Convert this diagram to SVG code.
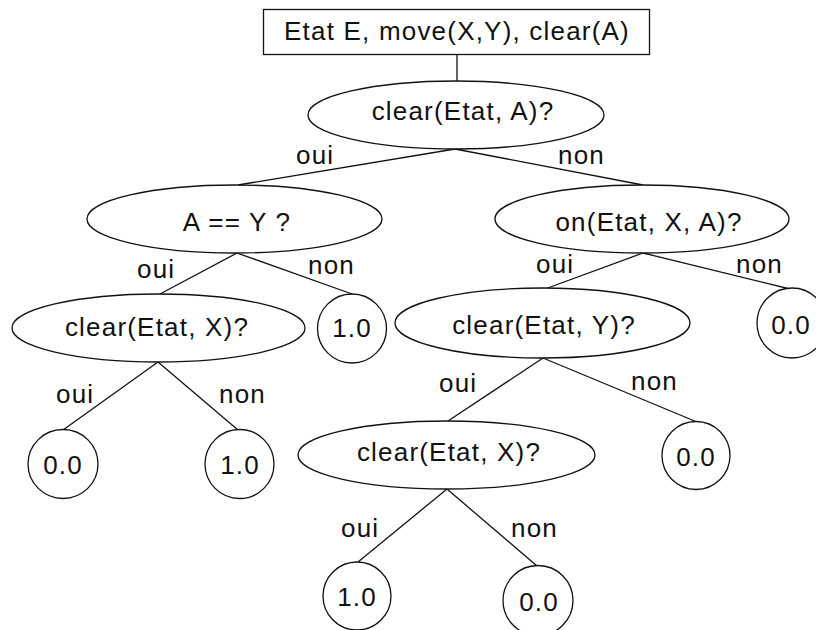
<svg xmlns="http://www.w3.org/2000/svg" width="816" height="630" viewBox="0 0 816 630">
<style>
.s{fill:#fff;stroke:#111;stroke-width:1.3}
.e line{stroke:#111;stroke-width:1.3}
text{font-family:"Liberation Sans",Arial,sans-serif;font-size:26px;letter-spacing:1.2px;fill:#111}
.c{text-anchor:middle}
</style>
<rect width="816" height="630" fill="#fff"/>
<g id="edges" class="e">
<line x1="457" y1="54" x2="457" y2="81"/>
<line x1="455" y1="149" x2="238" y2="185"/>
<line x1="455" y1="149" x2="643" y2="185"/>
<line x1="237" y1="253" x2="160" y2="294"/>
<line x1="237" y1="253" x2="352" y2="294"/>
<line x1="643" y1="253" x2="545" y2="289"/>
<line x1="643" y1="253" x2="790" y2="289"/>
<line x1="158" y1="362" x2="63" y2="430"/>
<line x1="158" y1="362" x2="238" y2="430"/>
<line x1="543" y1="358" x2="448" y2="421"/>
<line x1="543" y1="358" x2="697" y2="422"/>
<line x1="447" y1="489" x2="358" y2="562"/>
<line x1="447" y1="489" x2="537" y2="566"/>
</g>
<g id="labels">
<text x="296" y="164">oui</text>
<text x="558" y="164">non</text>
<text x="137" y="278">oui</text>
<text x="308" y="274">non</text>
<text x="536" y="273">oui</text>
<text x="736" y="273">non</text>
<text x="56" y="403">oui</text>
<text x="219" y="403">non</text>
<text x="439" y="392">oui</text>
<text x="631" y="390">non</text>
<text x="341" y="537">oui</text>
<text x="511" y="537">non</text>
</g>
<g id="start"><rect class="s" x="263.5" y="9.5" width="386" height="45"/><text class="c" x="457" y="40">Etat E, move(X,Y), clear(A)</text></g>
<g id="q1"><ellipse class="s" cx="456" cy="115" rx="148" ry="34"/><text class="c" x="463" y="120">clear(Etat, A)?</text></g>
<g id="q2"><ellipse class="s" cx="234.5" cy="219" rx="147.5" ry="34"/><text class="c" x="237" y="231">A == Y ?</text></g>
<g id="q3"><ellipse class="s" cx="642" cy="219" rx="147" ry="34"/><text class="c" x="649" y="231">on(Etat, X, A)?</text></g>
<g id="q4"><ellipse class="s" cx="158.5" cy="328" rx="146.5" ry="34"/><text class="c" x="157" y="336">clear(Etat, X)?</text></g>
<g id="l1"><ellipse class="s" cx="352" cy="328.5" rx="34.5" ry="34.5"/><text class="c" x="352" y="337">1.0</text></g>
<g id="q5"><ellipse class="s" cx="542.5" cy="323" rx="147.5" ry="35"/><text class="c" x="544" y="334">clear(Etat, Y)?</text></g>
<g id="l2"><ellipse class="s" cx="792" cy="323" rx="35" ry="35"/><text class="c" x="791" y="334">0.0</text></g>
<g id="l3"><ellipse class="s" cx="63" cy="464" rx="35" ry="34.5"/><text class="c" x="63" y="474">0.0</text></g>
<g id="l4"><ellipse class="s" cx="239.5" cy="464" rx="34.5" ry="34.5"/><text class="c" x="240" y="474">1.0</text></g>
<g id="q6"><ellipse class="s" cx="446.5" cy="455" rx="148.5" ry="34"/><text class="c" x="449" y="461">clear(Etat, X)?</text></g>
<g id="l5"><ellipse class="s" cx="696" cy="455.5" rx="34" ry="34"/><text class="c" x="696" y="466">0.0</text></g>
<g id="l6"><ellipse class="s" cx="357" cy="596" rx="34" ry="34"/><text class="c" x="357" y="606">1.0</text></g>
<g id="l7"><ellipse class="s" cx="538" cy="600.5" rx="35" ry="35"/><text class="c" x="539" y="611">0.0</text></g>
</svg>
